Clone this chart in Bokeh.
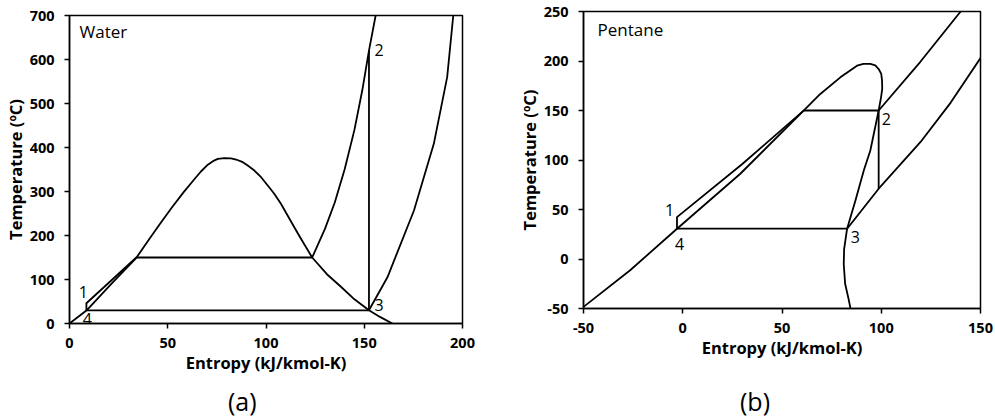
from bokeh.plotting import figure
from bokeh.layouts import row, column
from bokeh.models import Label, FixedTicker, Div
from bokeh.core.properties import value
from bokeh.embed import file_html
from bokeh.resources import INLINE

# ---------------- Water (a) ----------------
w_liq_s = [0, 8.6, 21.3, 34, 40, 46, 52, 58, 63, 67, 70.4, 73, 75.5, 78.8, 82.2, 84.8, 88.2, 90.7,
           94.1, 97.5, 100.9, 104.2, 107.6, 111, 114.4, 117.8, 123.5, 131, 138, 145, 152.4, 158, 164.3]
w_liq_t = [0, 29.5, 90, 149.3, 188, 226, 263, 298, 325, 346, 361, 369, 374, 375.7, 375.5, 372.7,
           366.6, 359, 347.7, 332.5, 313.6, 294.8, 272, 245.5, 218.9, 192.5, 150, 112, 84, 55, 30, 15, 0]
w_hp_s = [123.5, 130, 135, 140, 145, 149, 152.4, 155.8]
w_hp_t = [150, 215, 275, 350, 440, 530, 620, 700]
w_lp_s = [152.4, 161.8, 175.3, 185.4, 192.2, 195.3]
w_lp_t = [30, 105, 256.8, 408.4, 559.8, 700]
w_cyc_s = [34, 8.6, 8.6, 152.4, 152.4]
w_cyc_t = [150, 46, 30, 30, 620]
w_evap_s = [34, 123.5]
w_evap_t = [150, 150]
w_lab = ["1", "2", "3", "4"]
w_lab_s = [7, 157.5, 157.5, 9.1]
w_lab_t = [71, 622, 41, 10.6]

# ---------------- Pentane (b) ----------------
p_dome_s = [-50, -26.5, -2.9, 29, 60.9, 69.3, 79.4, 87.8, 91, 94.5, 97, 98.7, 100, 100.4, 100.5, 99.9, 98.7, 94.5,
            91.2, 87, 82.8, 81.3, 81.1, 81.8, 83.5, 84.5]
p_dome_t = [-48.4, -11.4, 30.6, 86.1, 149.9, 166.7, 183.5, 195.3, 197, 197, 195.5, 191.9, 187, 180.1, 172, 163.3, 150,
            109.6, 89.4, 59.2, 30.6, 10, -5, -25, -40, -50]
p_hp_s = [98.7, 119.7, 140]
p_hp_t = [150, 199.2, 250]
p_lp_s = [82.8, 98.7, 119.7, 135, 150]
p_lp_t = [30.6, 71, 118, 158, 203]
p_cyc_s = [60.9, 30, -2.9, -2.9, 82.8]
p_cyc_t = [149.9, 96, 42.3, 30.6, 30.6]
p_evap_s = [60.9, 98.7, 98.7]
p_evap_t = [150, 150, 71]
p_lab = ["1", "2", "3", "4"]
p_lab_s = [-6.6, 102.6, 87, -1.6]
p_lab_t = [49.1, 141.5, 22.2, 15.5]

FONT = "Open Sans"
LW = 1.8


def style(p, xticks, yticks):
    p.outline_line_color = "black"
    p.outline_line_width = 1.5
    p.outline_line_alpha = 1.0
    p.xgrid.visible = False
    p.ygrid.visible = False
    p.background_fill_color = "white"
    p.border_fill_color = "white"
    for ax in (p.xaxis[0], p.yaxis[0]):
        ax.axis_line_color = "black"
        ax.axis_line_width = 1.5
        ax.major_tick_line_color = "black"
        ax.major_tick_line_width = 1.5
        ax.major_tick_in = 0
        ax.major_tick_out = 5
        ax.minor_tick_line_color = None
        ax.major_label_text_font = FONT
        ax.major_label_text_font_size = "14.5px"
        ax.major_label_text_font_style = "bold"
        ax.major_label_text_color = "black"
        ax.axis_label_text_font = FONT
        ax.axis_label_text_font_size = "16.5px"
        ax.axis_label_text_font_style = "bold"
        ax.axis_label_text_color = "black"
    p.xaxis[0].ticker = FixedTicker(ticks=xticks)
    p.yaxis[0].ticker = FixedTicker(ticks=yticks)
    p.xaxis[0].major_label_overrides = {t: str(t) for t in xticks}
    p.yaxis[0].major_label_overrides = {t: str(t) for t in yticks}
    p.xaxis[0].major_label_standoff = 9
    p.yaxis[0].major_label_standoff = 10
    p.xaxis[0].axis_label_standoff = 0
    p.yaxis[0].axis_label_standoff = 0


def caption(text, pad, width):
    return Div(text=text, width=width, height=31,
               styles={"font-family": FONT, "font-size": "25px", "color": "black",
                       "padding-left": f"{pad}px", "line-height": "26px",
                       "box-sizing": "border-box", "margin": "0"})


# Figure (a)
pa = figure(width=500, height=388, x_range=(0, 200), y_range=(0, 700),
            output_backend="svg", toolbar_location=None,
            min_border_left=68, min_border_right=38, min_border_top=15, min_border_bottom=65,
            x_axis_label="Entropy (kJ/kmol-K)", y_axis_label="Temperature (ºC)")
style(pa, [0, 50, 100, 150, 200], [0, 100, 200, 300, 400, 500, 600, 700])
for xs, ys in [(w_liq_s, w_liq_t), (w_hp_s, w_hp_t), (w_lp_s, w_lp_t),
               (w_cyc_s, w_cyc_t), (w_evap_s, w_evap_t)]:
    pa.line(xs, ys, line_color="black", line_width=LW, line_join="round")
pa.text(x=w_lab_s, y=w_lab_t, text=w_lab, text_font=value(FONT), text_font_size="16px",
        text_align="center", text_baseline="middle", text_color="black")
pa.add_layout(Label(x=5.1, y=663, text="Water",
                    text_font=FONT, text_font_size="17px", text_color="black",
                    text_baseline="middle"))

# Figure (b)
pb = figure(width=495, height=388, x_range=(-50, 150), y_range=(-50, 250),
            output_backend="svg", toolbar_location=None,
            min_border_left=83, min_border_right=15, min_border_top=11, min_border_bottom=80,
            x_axis_label="Entropy (kJ/kmol-K)", y_axis_label="Temperature (ºC)")
style(pb, [-50, 0, 50, 100, 150], [-50, 0, 50, 100, 150, 200, 250])
for xs, ys in [(p_dome_s, p_dome_t), (p_hp_s, p_hp_t), (p_lp_s, p_lp_t),
               (p_cyc_s, p_cyc_t), (p_evap_s, p_evap_t)]:
    pb.line(xs, ys, line_color="black", line_width=LW, line_join="round")
pb.text(x=p_lab_s, y=p_lab_t, text=p_lab, text_font=value(FONT), text_font_size="16px",
        text_align="center", text_baseline="middle", text_color="black")
pb.add_layout(Label(x=-42.9, y=232, text="Pentane",
                    text_font=FONT, text_font_size="17px", text_color="black",
                    text_baseline="middle"))

layout = row(column(pa, caption("(a)", 228, 500)), column(pb, caption("(b)", 240, 495)))
open("out.html", "w").write(file_html(layout, INLINE))
